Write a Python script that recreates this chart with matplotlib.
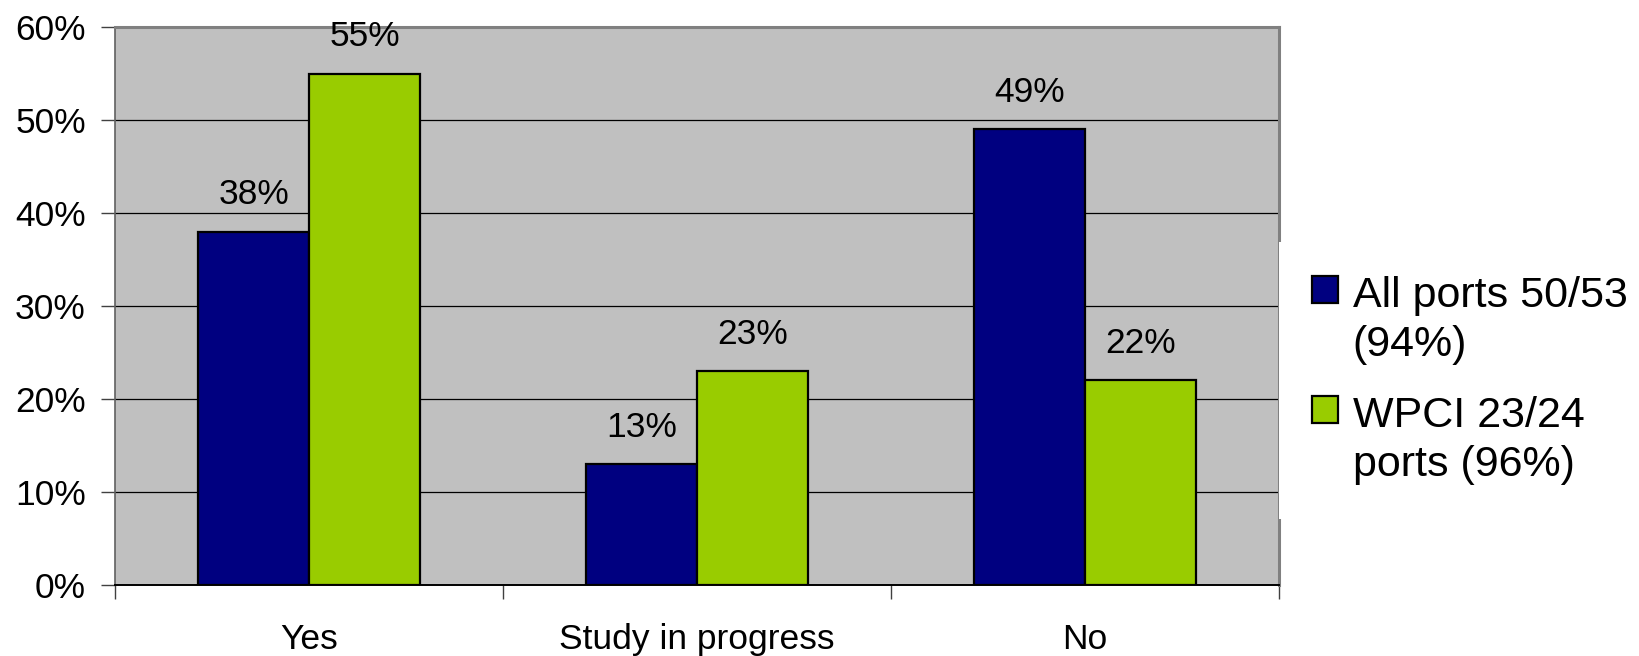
import numpy as np
import matplotlib.pyplot as plt
from matplotlib.patches import Rectangle
from matplotlib.legend_handler import HandlerPatch
from matplotlib.ticker import FixedLocator, PercentFormatter

plt.rcParams["font.family"] = ["Liberation Sans", "DejaVu Sans"]

# ---------- data ----------
categories = ["Yes", "Study in progress", "No"]
all_ports = [38, 13, 49]
wpci_ports = [55, 23, 22]
series_names = ["All ports 50/53\n(94%)", "WPCI 23/24\nports (96%)"]
colors = ["#000080", "#99CC00"]

# ---------- figure ----------
fig = plt.figure(figsize=(16.39, 6.56), dpi=100)
ax = fig.add_axes([0.0702, 0.1082, 0.7102, 0.8506])
ax.set_facecolor("#C0C0C0")

x = np.arange(len(categories))
w = 0.286
for i, (vals, name, col) in enumerate(zip([all_ports, wpci_ports], series_names, colors)):
    b = ax.bar(x + (i - 0.5) * w, vals, width=w, color=col, edgecolor="black",
               linewidth=1.6, label=name, zorder=3)
    ax.bar_label(b, labels=[f"{v}%" for v in vals], padding=14.5, fontsize=25.5)

ax.set_xlim(-0.5, len(categories) - 0.5)
ax.set_ylim(0, 60)
ax.set_yticks(np.arange(0, 61, 10))
ax.yaxis.set_major_formatter(PercentFormatter(decimals=0))
ax.yaxis.grid(True, color="black", linewidth=0.9, zorder=1)
ax.set_axisbelow(True)

ax.set_xticks(x)
ax.set_xticklabels(categories)
ax.xaxis.set_minor_locator(FixedLocator(np.arange(-0.5, len(categories), 1.0)))
ax.tick_params(axis="x", which="major", length=0, pad=27, labelsize=25.5)
ax.tick_params(axis="x", which="minor", length=10, width=1.0, color="#404040")
ax.tick_params(axis="y", length=10, width=1.0, color="#404040", pad=11, labelsize=25.5)

for side in ["top", "right"]:
    ax.spines[side].set_color("#808080")
    ax.spines[side].set_linewidth(2.2)
ax.spines["left"].set_color("#606060")
ax.spines["left"].set_linewidth(1.2)
ax.spines["bottom"].set_color("black")
ax.spines["bottom"].set_linewidth(1.4)


# legend square sits beside the first line of the label, a bit lower than the text box top
def square(legend, orig_handle, xdescent, ydescent, width, height, fontsize):
    return Rectangle((-xdescent, -ydescent - 4), width, height)


# white legend box starts at the plot border and hides part of it, like the original
leg = fig.legend(loc="center left", bbox_to_anchor=(0.7801, 0.42), frameon=True,
                 facecolor="white", edgecolor="none", framealpha=1, fancybox=False,
                 fontsize=31, handlelength=0.6, handleheight=0.6, handletextpad=0.35,
                 borderpad=0.775, borderaxespad=0, labelspacing=0.72,
                 handler_map={Rectangle: HandlerPatch(patch_func=square)})
for t in leg.get_texts():
    t.set_linespacing(1.3)
for col in leg._legend_handle_box.get_children():
    for item in col.get_children():
        item.align = "top"

fig.savefig("out.png", dpi=100)
